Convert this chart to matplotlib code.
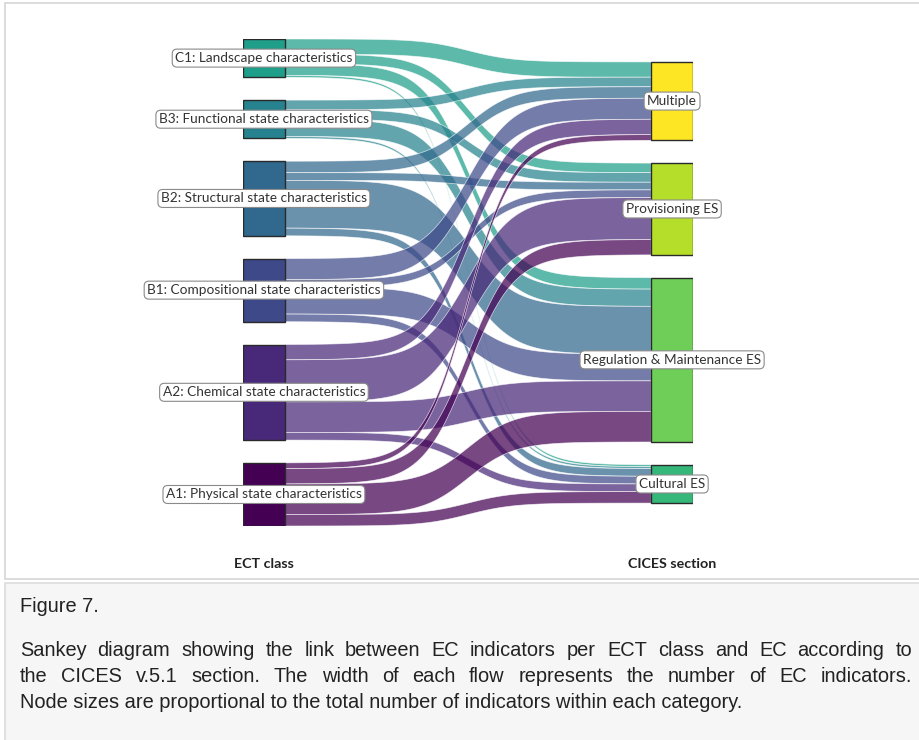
import matplotlib

matplotlib.use("Agg")
import matplotlib.pyplot as plt
import matplotlib.transforms as mtransforms
import numpy as np
from matplotlib.patches import Polygon, Rectangle

# ECT classes (left column, top to bottom) and CICES sections (right column)
ect_classes = [
    "C1: Landscape characteristics",
    "B3: Functional state characteristics",
    "B2: Structural state characteristics",
    "B1: Compositional state characteristics",
    "A2: Chemical state characteristics",
    "A1: Physical state characteristics",
]
cices_sections = ["Multiple", "Provisioning ES", "Regulation & Maintenance ES", "Cultural ES"]

# number of EC indicators per ECT class going to each CICES section
to_multiple = [8, 5, 6, 11, 8, 3]
to_provisioning = [5, 5, 4, 4, 22, 8]
to_regulation = [6, 9, 25, 14, 16, 16]
to_cultural = [1, 1, 4, 4, 4, 6]

axis_labels = ["ECT class", "CICES section"]

caption_title = "Figure 7."
caption_lines = [
    "Sankey diagram showing the link between EC indicators per ECT class and EC according to",
    "the CICES v.5.1 section. The width of each flow represents the number of EC indicators.",
    "Node sizes are proportional to the total number of indicators within each category.",
]

W, H = 919, 740
GAP = 12          # vertical gap between nodes, in indicator units
NODE_W = 0.093    # node width as a fraction of the column spacing
SMOOTH = 8
LABEL_FONT = ["Lato", "DejaVu Sans"]
CAPTION_FONT = ["Liberation Sans", "DejaVu Sans"]
CAPTION_SIZE = 14.4

flows = np.array([to_multiple, to_provisioning, to_regulation, to_cultural]).T  # (class, section)
left_tot = flows.sum(axis=1)
right_tot = flows.sum(axis=0)

pal = plt.cm.viridis(np.linspace(0, 1, 10))
left_col = [pal[5], pal[4], pal[3], pal[2], pal[1], pal[0]]
right_col = [pal[9], pal[8], pal[7], pal[6]]

span_left = left_tot.sum() + GAP * (len(left_tot) - 1)
span_right = right_tot.sum() + GAP * (len(right_tot) - 1)


def stack(totals, offset):
    tops, y = [], offset
    for t in totals:
        tops.append(y)
        y += t + GAP
    return np.array(tops, dtype=float)


left_top = stack(left_tot, 0.0)
right_top = stack(right_tot, (span_left - span_right) / 2)

fig = plt.figure(figsize=(W / 100, H / 100), dpi=100)

# background layer in pixel units: frames and caption
bg = fig.add_axes([0, 0, 1, 1], zorder=0)
bg.set_xlim(0, W)
bg.set_ylim(H, 0)
bg.axis("off")
bg.add_patch(Rectangle((5, 3), W - 4, 576, facecolor="white", edgecolor="#d6d6d6", lw=1.2))
bg.add_patch(Rectangle((5, 583), W - 4, H - 583 + 2, facecolor="#f6f6f6", edgecolor="#dcdcdc", lw=1.2))

ax = fig.add_axes([243 / W, 1 - 526 / H, (693 - 243) / W, (526 - 39) / H], zorder=1)
ax.set_xlim(0, 1)
ax.set_ylim(span_left, 0)
ax.axis("off")

x0, x1 = NODE_W, 1 - NODE_W
s = np.linspace(-SMOOTH, SMOOTH, 120)
sig = np.exp(s) / (np.exp(s) + 1)
xs = x0 + (s + SMOOTH) / (2 * SMOOTH) * (x1 - x0)

# flows: stacked by section at the source, by class at the target
src_off = np.zeros_like(flows, dtype=float)
dst_off = np.zeros_like(flows, dtype=float)
for i in range(flows.shape[0]):
    y = left_top[i]
    for j in range(flows.shape[1]):
        src_off[i, j] = y
        y += flows[i, j]
for j in range(flows.shape[1]):
    y = right_top[j]
    for i in range(flows.shape[0]):
        dst_off[i, j] = y
        y += flows[i, j]

for i in range(flows.shape[0]):
    for j in range(flows.shape[1]):
        v = flows[i, j]
        if v == 0:
            continue
        top = src_off[i, j] + sig * (dst_off[i, j] - src_off[i, j])
        bot = top + v
        pts = np.vstack([np.column_stack([xs, top]), np.column_stack([xs[::-1], bot[::-1]])])
        ax.add_patch(Polygon(pts, closed=True, facecolor=left_col[i], edgecolor="white",
                             lw=0.5, alpha=0.72, zorder=2))

# nodes
for i, t in enumerate(left_tot):
    ax.add_patch(Rectangle((0, left_top[i]), NODE_W, t, facecolor=left_col[i],
                           edgecolor="#2a2a2a", lw=1.0, zorder=3))
for j, t in enumerate(right_tot):
    ax.add_patch(Rectangle((x1, right_top[j]), NODE_W, t, facecolor=right_col[j],
                           edgecolor="#2a2a2a", lw=1.0, zorder=3))

box = dict(boxstyle="round,pad=0.22,rounding_size=0.35", facecolor="white",
           edgecolor="#8a8a8a", lw=0.8)
for i, name in enumerate(ect_classes):
    ax.text(NODE_W / 2, left_top[i] + left_tot[i] / 2, name, ha="center", va="center",
            fontsize=9.8, family=LABEL_FONT, color="#333333", bbox=box, zorder=4)
for j, name in enumerate(cices_sections):
    ax.text(x1 + NODE_W / 2, right_top[j] + right_tot[j] / 2, name, ha="center", va="center",
            fontsize=9.8, family=LABEL_FONT, color="#333333", bbox=box, zorder=4)

trans = mtransforms.blended_transform_factory(ax.transData, fig.transFigure)
for xc, lab in zip([NODE_W / 2, x1 + NODE_W / 2], axis_labels):
    ax.text(xc, 1 - 564 / H, lab, transform=trans, ha="center", va="center",
            fontsize=10.3, fontweight="bold", family=LABEL_FONT, color="#222222")

# caption
bg.text(20, 607, caption_title, ha="left", va="center", fontsize=CAPTION_SIZE,
        family=CAPTION_FONT, color="#222222")

renderer = fig.canvas.get_renderer()


def justified(line, y, xl, xr):
    words = line.split()
    texts = [bg.text(0, y, w, ha="left", va="center", fontsize=CAPTION_SIZE,
                     family=CAPTION_FONT, color="#222222") for w in words]
    widths = [t.get_window_extent(renderer).width for t in texts]
    step = (xr - xl - sum(widths)) / (len(words) - 1)
    x = xl
    for t, w in zip(texts, widths):
        t.set_x(x)
        x += w + step


justified(caption_lines[0], 650, 20, 912)
justified(caption_lines[1], 676, 20, 912)
bg.text(20, 702, caption_lines[2], ha="left", va="center", fontsize=CAPTION_SIZE,
        family=CAPTION_FONT, color="#222222")

fig.savefig("out.png", dpi=100)
